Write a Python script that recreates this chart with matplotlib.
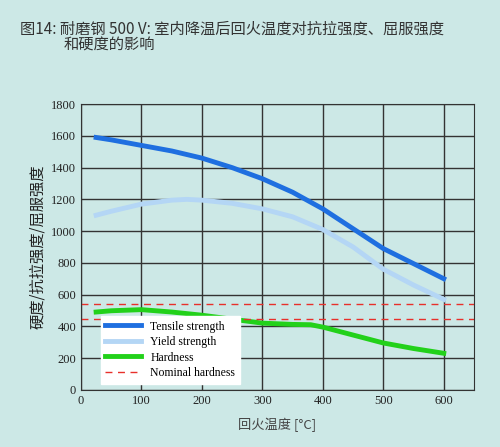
import matplotlib
matplotlib.use("Agg")
import matplotlib.pyplot as plt

plt.rcParams['font.family'] = ['Noto Sans CJK SC', 'DejaVu Sans']

temps_t = [25, 50, 100, 150, 200, 250, 300, 350, 400, 450, 500, 550, 600]
tensile = [1590, 1575, 1540, 1505, 1460, 1400, 1330, 1245, 1140, 1015, 890, 795, 700]
temps_y = [25, 50, 100, 150, 175, 200, 250, 300, 350, 400, 450, 500, 550, 600]
yield_s = [1100, 1125, 1170, 1195, 1200, 1195, 1175, 1140, 1090, 1010, 900, 760, 660, 570]
temps_h = [25, 50, 100, 150, 200, 250, 300, 350, 380, 400, 450, 500, 550, 600]
hardness = [490, 498, 505, 490, 470, 445, 420, 412, 410, 395, 345, 295, 260, 230]
nominal = [540, 445]

bg = '#cce8e6'
fig = plt.figure(figsize=(5, 4.47), dpi=100, facecolor=bg)
ax = fig.add_axes([0.162, 0.128, 0.786, 0.639], facecolor=bg)

ax.plot(temps_t, tensile, color='#1f6fe0', lw=3.5, label='Tensile strength')
ax.plot(temps_y, yield_s, color='#b4d6f5', lw=3.5, label='Yield strength')
ax.plot(temps_h, hardness, color='#22d11a', lw=3.5, label='Hardness')
for i, v in enumerate(nominal):
    ax.axhline(v, color='#e8302a', ls=(0, (5, 4)), lw=1, label='Nominal hardness' if i == 0 else None)

ax.set_xlim(0, 650)
ax.set_ylim(0, 1800)
ax.set_xticks(range(0, 601, 100))
ax.set_yticks(range(0, 1801, 200))
ax.grid(True, color='#333333', lw=1.0)
ax.set_axisbelow(True)
for s in ax.spines.values():
    s.set_color('#333333')
ax.tick_params(length=0, labelsize=9, colors='#222222')
for lab in ax.get_xticklabels() + ax.get_yticklabels():
    lab.set_family(['Liberation Serif'])

ax.set_xlabel('回火温度 [°C]', fontsize=9.5, color='#444444', labelpad=8)
ax.set_ylabel('硬度/抗拉强度/屈服强度', fontsize=11, color='#222222', labelpad=4)

leg = ax.legend(loc='lower left', bbox_to_anchor=(0.035, 0.0), frameon=True, fancybox=False,
                framealpha=1, edgecolor='white', prop={'family': 'Liberation Serif', 'size': 8.5},
                handlelength=3, borderpad=0.4, labelspacing=0.3)

fig.text(0.04, 0.925, '图14: 耐磨钢 500 V: 室内降温后回火温度对抗拉强度、屈服强度', fontsize=11, color='#333333')
fig.text(0.128, 0.888, '和硬度的影响', fontsize=11, color='#333333')

fig.savefig('out.png', dpi=100, facecolor=bg)
